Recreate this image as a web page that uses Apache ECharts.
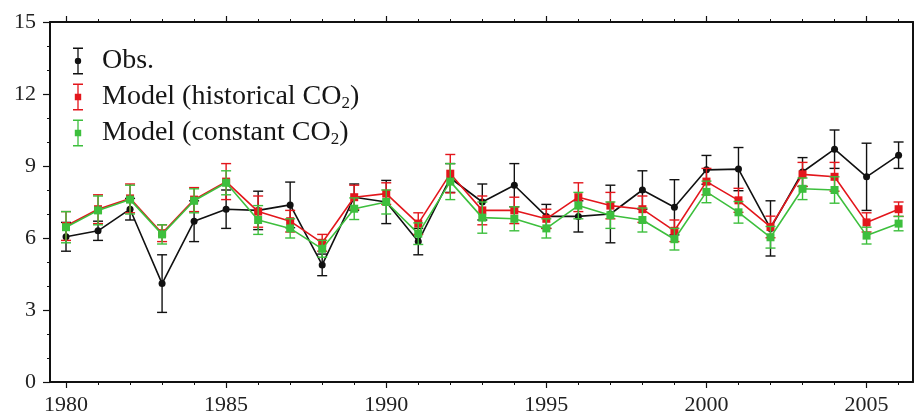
<!DOCTYPE html>
<html>
<head>
<meta charset="utf-8">
<script src="https://cdn.jsdelivr.net/npm/echarts@6/dist/echarts.min.js"></script>
<style>
  html, body { margin: 0; padding: 0; background: #fff; }
  #chart { width: 915px; height: 416px; }
</style>
</head>
<body>
<div id="chart"></div>
<script>
// Annual values with one-sigma spread, 1980-2006
const years = [1980, 1981, 1982, 1983, 1984, 1985, 1986, 1987, 1988, 1989, 1990, 1991, 1992, 1993,
               1994, 1995, 1996, 1997, 1998, 1999, 2000, 2001, 2002, 2003, 2004, 2005, 2006];
const yearLabels = [1980, 1985, 1990, 1995, 2000, 2005];

const obs      = [6.05, 6.3, 7.2, 4.1, 6.7, 7.2, 7.15, 7.38, 4.88, 7.7, 7.5, 5.85, 8.5, 7.5,
                  8.2, 6.9, 6.9, 7.0, 8.0, 7.28, 8.84, 8.87, 6.4, 8.75, 9.7, 8.55, 9.45];
const obsErr   = [0.6, 0.4, 0.45, 1.2, 0.85, 0.8, 0.8, 0.95, 0.45, 0.55, 0.9, 0.55, 0.6, 0.75,
                  0.9, 0.5, 0.65, 1.2, 0.8, 1.15, 0.6, 0.9, 1.15, 0.6, 0.8, 1.4, 0.55];

const histCO2    = [6.5, 7.2, 7.65, 6.2, 7.6, 8.35, 7.1, 6.7, 5.8, 7.7, 7.85, 6.6, 8.68, 7.15,
                    7.15, 6.8, 7.7, 7.35, 7.2, 6.3, 8.35, 7.57, 6.46, 8.65, 8.55, 6.65, 7.2];
const histCO2Err = [0.6, 0.6, 0.6, 0.35, 0.5, 0.75, 0.65, 0.45, 0.35, 0.5, 0.45, 0.45, 0.8, 0.6,
                    0.55, 0.4, 0.6, 0.55, 0.55, 0.45, 0.55, 0.5, 0.45, 0.5, 0.6, 0.4, 0.3];

const constCO2    = [6.45, 7.15, 7.6, 6.15, 7.55, 8.3, 6.75, 6.4, 5.55, 7.22, 7.5, 6.18, 8.35, 6.85,
                     6.8, 6.4, 7.35, 6.95, 6.75, 5.95, 7.92, 7.07, 6.03, 8.05, 8.0, 6.1, 6.6];
const constCO2Err = [0.65, 0.6, 0.6, 0.4, 0.5, 0.5, 0.6, 0.4, 0.35, 0.45, 0.5, 0.45, 0.75, 0.65,
                     0.5, 0.4, 0.55, 0.55, 0.5, 0.45, 0.45, 0.45, 0.45, 0.45, 0.55, 0.35, 0.3];

const NAME_OBS = 'Obs.';
const NAME_HIST = 'Model (historical CO2)';
const NAME_CONST = 'Model (constant CO2)';

const BLACK = '#111111';
const RED = '#e3161c';
const GREEN = '#3dbf3d';
const FONT = 'Liberation Serif';

const X_MIN = 1979.5, X_MAX = 2006.45;

function pairs(vals) {
  return years.map((y, i) => [y, vals[i]]);
}
function ranges(vals, errs) {
  return years.map((y, i) => [y, vals[i] - errs[i], vals[i] + errs[i]]);
}

// Vertical error bar with end caps
function errorBarRenderer(color) {
  return function (params, api) {
    const x = api.value(0);
    const top = api.coord([x, api.value(2)]);
    const bot = api.coord([x, api.value(1)]);
    const hw = 5;
    const style = { stroke: color, lineWidth: 1.4, fill: null };
    return {
      type: 'group',
      children: [
        { type: 'line', shape: { x1: top[0], y1: top[1], x2: bot[0], y2: bot[1] }, style: style },
        { type: 'line', shape: { x1: top[0] - hw, y1: top[1], x2: top[0] + hw, y2: top[1] }, style: style },
        { type: 'line', shape: { x1: bot[0] - hw, y1: bot[1], x2: bot[0] + hw, y2: bot[1] }, style: style }
      ]
    };
  };
}

function lineSeries(name, vals, color, symbol, size, z) {
  return {
    name: name,
    type: 'line',
    data: pairs(vals),
    symbol: symbol,
    symbolSize: size,
    showSymbol: true,
    lineStyle: { color: color, width: 1.6 },
    itemStyle: { color: color, borderWidth: 0 },
    z: z,
    silent: true
  };
}
function barSeries(name, vals, errs, color, z) {
  return {
    name: name,
    type: 'custom',
    renderItem: errorBarRenderer(color),
    data: ranges(vals, errs),
    encode: { x: 0, y: [1, 2] },
    itemStyle: { color: color },
    z: z,
    silent: true
  };
}

// Legend glyphs: capped bar with a marker in the middle
const ICON_BAR = 'M0,0H10V1.4H0Z M4.35,0H5.65V27H4.35Z M0,25.6H10V27H0Z';
const ICON_OBS = 'path://' + ICON_BAR + ' M5,10.3A3.2,3.2,0,1,1,4.99,10.3Z';
const ICON_MODEL = 'path://' + ICON_BAR + ' M1.8,10.3H8.2V16.7H1.8Z';

const xCommon = { type: 'value', min: X_MIN, max: X_MAX, splitLine: { show: false } };
const plainYear = v => String(v);

const option = {
  animation: false,
  backgroundColor: '#ffffff',
  grid: { left: 50, right: 2, top: 22, bottom: 34, containLabel: false },
  legend: {
    orient: 'vertical',
    left: 68,
    top: 41,
    itemWidth: 20,
    itemHeight: 27,
    itemGap: 6,
    symbolKeepAspect: true,
    selectedMode: false,
    textStyle: {
      fontFamily: FONT,
      fontSize: 28,
      color: '#151515',
      lineHeight: 30,
      rich: {
        g: { width: 9 },
        sub: { fontFamily: FONT, fontSize: 17, color: '#151515', verticalAlign: 'bottom', lineHeight: 30 }
      }
    },
    formatter: function (name) {
      return '{g|}' + name.replace('CO2', 'CO{sub|2}');
    },
    data: [
      { name: NAME_OBS, icon: ICON_OBS, itemStyle: { color: BLACK, borderWidth: 0 } },
      { name: NAME_HIST, icon: ICON_MODEL, itemStyle: { color: RED, borderWidth: 0 } },
      { name: NAME_CONST, icon: ICON_MODEL, itemStyle: { color: GREEN, borderWidth: 0 } }
    ]
  },
  xAxis: [
    Object.assign({}, xCommon, {
      position: 'bottom',
      axisLine: { show: true, lineStyle: { color: BLACK, width: 2 } },
      axisTick: { show: true, customValues: years, length: 3, lineStyle: { color: BLACK, width: 1 } },
      axisLabel: { show: true, customValues: yearLabels, formatter: plainYear, margin: 12,
                   fontFamily: FONT, fontSize: 22, color: '#222' }
    }),
    Object.assign({}, xCommon, {
      position: 'bottom',
      axisLine: { show: false },
      axisTick: { show: true, customValues: yearLabels, length: 6, lineStyle: { color: BLACK, width: 1.2 } },
      axisLabel: { show: false }
    }),
    Object.assign({}, xCommon, {
      position: 'top',
      axisLine: { show: true, lineStyle: { color: BLACK, width: 2 } },
      axisTick: { show: true, customValues: years, length: 3, lineStyle: { color: BLACK, width: 1 } },
      axisLabel: { show: false }
    }),
    Object.assign({}, xCommon, {
      position: 'top',
      axisLine: { show: false },
      axisTick: { show: true, customValues: yearLabels, length: 6, lineStyle: { color: BLACK, width: 1.2 } },
      axisLabel: { show: false }
    })
  ],
  yAxis: [
    {
      type: 'value',
      min: 0, max: 15, interval: 3,
      position: 'left',
      splitLine: { show: false },
      axisLine: { show: true, lineStyle: { color: BLACK, width: 2 } },
      axisTick: { show: true, length: 7, lineStyle: { color: BLACK, width: 1.2 } },
      minorTick: { show: true, splitNumber: 3, length: 3, lineStyle: { color: BLACK, width: 1 } },
      axisLabel: { margin: 14, fontFamily: FONT, fontSize: 22, color: '#222' }
    },
    {
      type: 'value',
      min: 0, max: 15,
      position: 'right',
      splitLine: { show: false },
      axisLine: { show: true, lineStyle: { color: BLACK, width: 2 } },
      axisTick: { show: false },
      axisLabel: { show: false }
    }
  ],
  series: [
    barSeries(NAME_OBS, obs, obsErr, BLACK, 2),
    lineSeries(NAME_OBS, obs, BLACK, 'circle', 7, 3),
    barSeries(NAME_HIST, histCO2, histCO2Err, RED, 4),
    lineSeries(NAME_HIST, histCO2, RED, 'rect', 8, 5),
    barSeries(NAME_CONST, constCO2, constCO2Err, GREEN, 6),
    lineSeries(NAME_CONST, constCO2, GREEN, 'rect', 8, 7)
  ]
};

const chart = echarts.init(document.getElementById('chart'), null, { renderer: 'canvas' });
chart.setOption(option);
</script>
</body>
</html>
